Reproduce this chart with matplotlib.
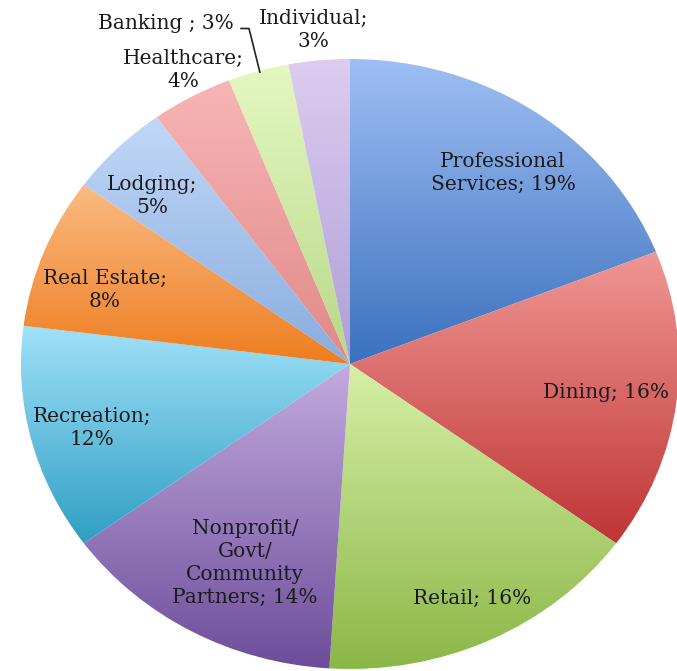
import numpy as np
import matplotlib
matplotlib.use("Agg")
import matplotlib.pyplot as plt
from matplotlib.patches import Wedge
from matplotlib.colors import LinearSegmentedColormap

# ---- data ----
categories = ["Professional\nServices", "Dining", "Retail",
              "Nonprofit/\nGovt/\nCommunity\nPartners", "Recreation",
              "Real Estate", "Lodging", "Healthcare", "Banking ", "Individual"]
values = [19, 16, 16, 14, 12, 8, 5, 4, 3, 3]
label_seps = ["; ", "; ", "; ", "; ", ";\n", ";\n", ";\n", ";\n", "; ", ";\n"]

# ---- styles ----
top_colors = ["#A0C0F4", "#F09896", "#D8F0A8", "#C4ACE0", "#A2E2FA",
              "#FABC84", "#C2D8F8", "#F8B6B6", "#E4F8C2", "#DCCDF0"]
bottom_colors = ["#3A70BE", "#BE3434", "#8AB646", "#6C4C9A", "#2E9EC2",
                 "#EE7C1E", "#88ACDE", "#E08888", "#B8D888", "#AE9ED6"]
# label positions (layout, in axes data units) and alignment
label_pos = [(0.465, 0.626), (0.778, -0.092), (0.371, -0.770), (-0.319, -0.652),
             (-0.784, -0.210), (-0.745, 0.243), (-0.602, 0.551), (-0.508, 0.964),
             (-0.352, 1.115), (-0.112, 1.095)]
label_ha = ["center"] * 8 + ["right", "center"]

W, H = 677, 671
fig = plt.figure(figsize=(W / 100, H / 100), dpi=100)
ax = fig.add_axes([21 / W, 2 / H, 658 / W, 610 / H])
ax.set_xlim(-1, 1)
ax.set_ylim(-1, 1)
ax.set_aspect("auto")
ax.axis("off")

total = float(sum(values))
start = 90.0
for i, v in enumerate(values):
    sweep = 360.0 * v / total
    theta2 = start
    theta1 = start - sweep
    w = Wedge((0, 0), 1.0, theta1, theta2, facecolor="none", edgecolor="none")
    ax.add_patch(w)
    angs = np.linspace(np.radians(theta1), np.radians(theta2), 200)
    xs = np.concatenate([[0], np.cos(angs)])
    ys = np.concatenate([[0], np.sin(angs)])
    ymin, ymax = ys.min(), ys.max()
    xmin, xmax = xs.min(), xs.max()
    cmap = LinearSegmentedColormap.from_list("g%d" % i, [bottom_colors[i], top_colors[i]])
    grad = np.linspace(0, 1, 256).reshape(-1, 1)
    im = ax.imshow(grad, cmap=cmap, origin="lower", aspect="auto",
                   extent=[xmin - 0.01, xmax + 0.01, ymin - 0.01, ymax + 0.01],
                   interpolation="bilinear", zorder=1)
    im.set_clip_path(w)
    start = theta1

ax.set_xlim(-1, 1)
ax.set_ylim(-1, 1)

for i, (c, v) in enumerate(zip(categories, values)):
    txt = "%s%s%d%%" % (c, label_seps[i], v)
    x, y = label_pos[i]
    ax.text(x, y, txt, ha=label_ha[i], va="center", fontsize=14.5,
            family="DejaVu Serif", color="#1a1a1a", linespacing=1.25,
            multialignment="center", clip_on=False, zorder=5)

# leader line for Banking
ax.plot([-0.331, -0.307, -0.274], [1.100, 1.100, 0.957], color="#222222",
        lw=1.2, clip_on=False, zorder=5)

fig.savefig("out.png", dpi=100)
